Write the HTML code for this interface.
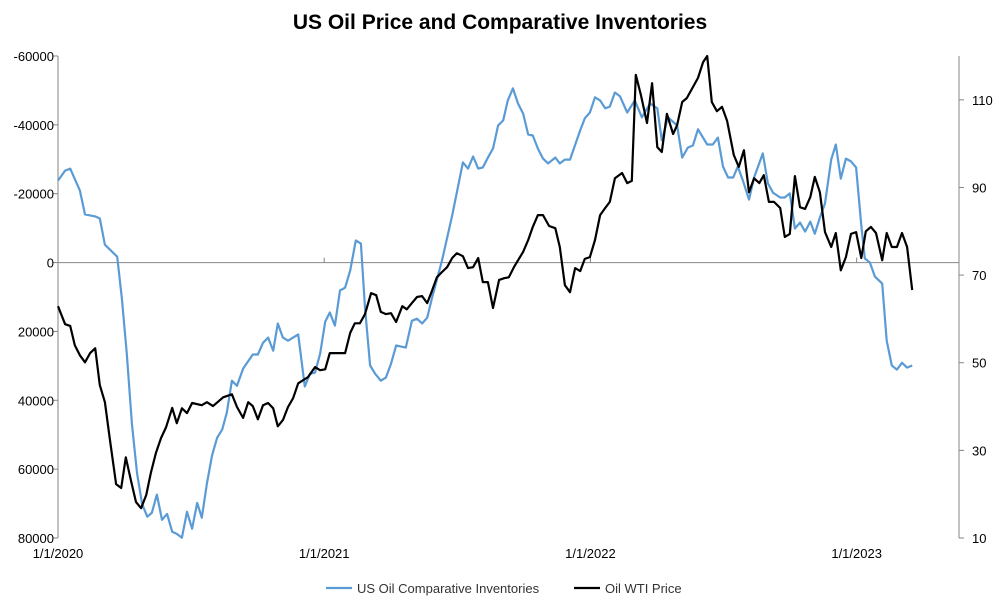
<!DOCTYPE html>
<html><head><meta charset="utf-8"><style>
body{margin:0;background:#fff;width:999px;height:606px;overflow:hidden;font-family:"Liberation Sans",sans-serif}
</style></head><body>
<svg id="chart" width="999" height="606" xmlns="http://www.w3.org/2000/svg">
<text x="500" y="29" text-anchor="middle" font-size="21" font-weight="bold" fill="#000">US Oil Price and Comparative Inventories</text>
<g id="axes"></g>
<g id="series"></g>
<g>
<line x1="326" y1="588" x2="352" y2="588" stroke="#5b9bd5" stroke-width="2.2"/>
<text x="357" y="593" font-size="13" fill="#333">US Oil Comparative Inventories</text>
<line x1="574" y1="588" x2="600" y2="588" stroke="#000" stroke-width="2.2"/>
<text x="605" y="593" font-size="13" fill="#333">Oil WTI Price</text>
</g>
</svg>
<script>
const xTickWeeks=[0,52.2,104.4,156.6];
const xTickLabels=["1/1/2020","1/1/2021","1/1/2022","1/1/2023"];
const leftTicks=[-60000,-40000,-20000,0,20000,40000,60000,80000];
const rightTicks=[10,30,50,70,90,110];
const invWeeks=[0,1.4,2.4,4.3,5.3,7.3,8.2,9.2,11.6,12.5,13.5,14.5,15.5,16.5,17.5,18.4,19.4,20.4,21.4,22.4,23.3,24.3,25.3,26.3,27.3,28.2,29.2,30.2,31.2,32.2,33.1,34.1,35.1,36.3,38.2,39.2,40.2,41.2,42.2,43.1,44.1,45.1,47.1,48.4,49.4,50.4,51.4,52.4,53.3,54.3,55.3,56.3,57.3,58.4,59.4,60.2,61.2,62.2,63.3,64.3,65.3,66.3,68.2,69.4,70.4,71.4,72.4,73.3,75.3,77.3,78.2,79.4,80.4,81.4,82.4,83.3,84.3,85.3,86.3,87.3,88.2,89.2,90.2,91.2,92.2,93.1,94.1,95.1,96.1,97.5,98.4,99.4,100.4,102.4,103.3,104.3,105.3,106.3,107.3,108.2,109.2,110.2,111.6,113.1,114.5,116.1,117.5,118.4,119.6,121.4,122.4,123.5,124.5,125.5,127.3,128.4,129.4,130.4,131.4,132.4,133.3,134.3,135.5,136.5,138.2,139.2,140.2,141.6,142.5,143.5,144.5,145.5,146.5,147.5,148.4,149.4,150.4,151.6,152.5,153.5,154.5,155.5,156.5,157.5,158.2,159.2,160.2,161.6,162.5,163.5,164.5,165.5,166.5,167.5];
const invValues=[-23800,-26700,-27300,-20900,-14000,-13400,-12800,-5200,-1700,10200,26500,46800,61300,70100,73800,72700,67400,74700,73000,78200,78800,79900,72400,77300,69800,74100,64200,56100,50900,48500,43600,34300,35800,30800,26700,26700,23300,21800,25600,17700,21800,22700,20900,36000,32300,32000,26500,17200,14500,18300,8100,7300,2300,-6400,-5500,13100,29900,32300,34300,33400,29400,24100,24700,16900,16300,17700,16000,10500,-600,-13700,-20300,-29100,-27300,-30800,-27300,-27600,-30500,-33100,-39800,-41300,-47100,-50600,-46200,-43300,-37200,-36900,-33100,-30200,-28800,-30500,-28800,-29900,-29900,-38400,-41900,-43600,-48000,-47100,-44800,-45300,-49400,-48300,-43600,-47100,-42200,-46200,-44800,-35500,-42200,-39800,-30500,-33400,-34000,-38700,-34300,-34300,-36300,-27900,-24700,-24700,-27900,-23800,-18300,-24700,-31700,-23000,-20300,-18900,-18900,-20100,-9900,-11600,-9000,-11900,-8400,-13100,-17200,-29900,-34300,-24400,-30200,-29400,-27600,-10800,-1200,0,4100,6100,22700,29900,31100,29100,30500,29900];
const wtiWeeks=[0,1.4,2.4,3.3,4.3,5.3,6.3,7.3,8.2,9.2,10.2,11.4,12.4,13.3,14.3,15.3,16.3,17.3,18.2,19.2,20.2,21.2,22.4,23.3,24.3,25.3,26.3,28.2,29.2,30.4,32.4,34.1,35.1,36.3,37.3,38.2,39.2,40.2,41.2,42.2,43.1,44.1,45.1,46.1,47.1,49.0,50.4,51.4,52.4,53.3,56.3,57.3,58.2,59.2,60.2,61.4,62.4,63.3,64.3,65.3,66.3,67.5,68.4,69.4,70.4,71.4,72.4,73.3,74.3,75.3,76.3,77.3,78.2,79.4,80.4,81.4,82.4,83.3,84.3,85.3,86.5,87.5,88.4,89.4,91.2,92.2,93.1,94.1,95.1,96.3,97.5,98.4,99.4,100.4,101.4,102.4,103.3,104.3,105.3,106.3,107.3,108.2,109.2,110.6,111.6,112.5,113.3,114.3,115.5,116.5,117.5,118.4,119.4,120.6,121.4,122.4,123.3,124.5,125.5,126.5,127.3,128.2,129.2,130.2,131.2,132.5,133.5,134.5,135.5,136.5,137.5,138.4,139.4,140.4,141.6,142.5,143.5,144.5,145.5,146.5,147.5,148.4,149.4,150.4,151.6,152.5,153.5,154.5,155.5,156.5,157.5,158.4,159.4,160.4,161.6,162.5,163.5,164.5,165.5,166.5,167.5];
const wtiValues=[62.9,58.8,58.4,54.0,51.7,50.1,52.2,53.3,44.9,41.0,32.3,22.3,21.4,28.4,23.2,18.2,16.8,19.8,24.8,29.4,32.8,35.3,39.7,36.2,39.6,38.5,40.8,40.3,41.0,40.1,42.1,42.8,39.9,37.4,41.0,40.1,37.1,40.3,40.8,39.6,35.5,36.9,39.9,41.9,45.3,46.7,49.0,48.3,48.5,52.2,52.2,56.8,59.0,59.0,61.1,65.9,65.4,61.6,61.1,61.3,59.3,62.9,62.2,63.6,65.0,65.2,63.6,66.3,69.5,70.7,71.8,73.9,75.0,74.3,71.6,71.8,73.9,68.4,68.4,62.5,68.9,69.3,69.5,71.8,75.3,78.0,81.0,83.7,83.7,81.2,80.7,76.4,67.7,66.1,71.6,70.9,73.7,74.1,78.0,83.7,85.3,86.7,92.1,93.3,91.0,91.5,115.7,111.1,104.7,113.8,99.2,98.1,106.8,102.2,104.2,109.5,110.4,112.9,115.0,118.6,120.0,109.5,107.4,108.4,105.2,97.4,94.7,98.5,88.9,92.1,91.0,92.8,86.7,86.7,85.3,78.7,79.4,92.6,85.5,85.1,87.8,92.4,88.9,79.8,76.4,79.6,71.1,74.1,79.4,79.8,73.9,80.0,81.0,79.6,73.4,79.6,76.4,76.4,79.6,76.4,66.6];

const NS="http://www.w3.org/2000/svg";
const X0=58,PXW=5.1,TOP=56,BOT=538,XR=959;
const xScale=w=>X0+w*PXW;
const yLeft=v=>TOP+(v-(-60000))/(140000)*(BOT-TOP);
const yRight=p=>BOT-(p-10)/110*(BOT-TOP);
function mk(tag,attrs,parent){const e=document.createElementNS(NS,tag);for(const k in attrs)e.setAttribute(k,attrs[k]);parent.appendChild(e);return e;}
const axes=document.getElementById('axes');
let el=mk('line',{x1:X0,y1:TOP,x2:X0,y2:BOT,stroke:'#868686','stroke-width':1},axes);


el=mk('line',{x1:XR,y1:TOP,x2:XR,y2:BOT,stroke:'#868686','stroke-width':1},axes);


el=mk('line',{x1:X0,y1:yLeft(0),x2:XR,y2:yLeft(0),stroke:'#868686','stroke-width':1},axes);


leftTicks.forEach(v=>{
  const y=yLeft(v);
  mk('line',{x1:X0-5,y1:y,x2:X0,y2:y,stroke:'#868686'},axes);
  const t=mk('text',{x:X0-4,y:y+5,'text-anchor':'end','font-size':13,fill:'#000'},axes);
  t.textContent=v;
  
  
});
rightTicks.forEach(v=>{
  const y=yRight(v);
  mk('line',{x1:XR,y1:y,x2:XR+5,y2:y,stroke:'#868686'},axes);
  const t=mk('text',{x:972,y:y+5,'text-anchor':'start','font-size':13,fill:'#000'},axes);
  t.textContent=v;
  
  
});
xTickWeeks.forEach((w,i)=>{
  const x=xScale(w);
  mk('line',{x1:x,y1:yLeft(0)-5,x2:x,y2:yLeft(0),stroke:'#868686'},axes);
  const t=mk('text',{x:x,y:558,'text-anchor':'middle','font-size':13,fill:'#000'},axes);
  t.textContent=xTickLabels[i];
  
  
});
const series=document.getElementById('series');
const invPts=invWeeks.map((w,i)=>xScale(w).toFixed(1)+','+yLeft(invValues[i]).toFixed(1)).join(' ');
el=mk('polyline',{points:invPts,fill:'none',stroke:'#5b9bd5','stroke-width':2.2,'stroke-linejoin':'round'},series);


const wtiPts=wtiWeeks.map((w,i)=>xScale(w).toFixed(1)+','+yRight(wtiValues[i]).toFixed(1)).join(' ');
el=mk('polyline',{points:wtiPts,fill:'none',stroke:'#000','stroke-width':2.2,'stroke-linejoin':'round'},series);


</script>
</body></html>
